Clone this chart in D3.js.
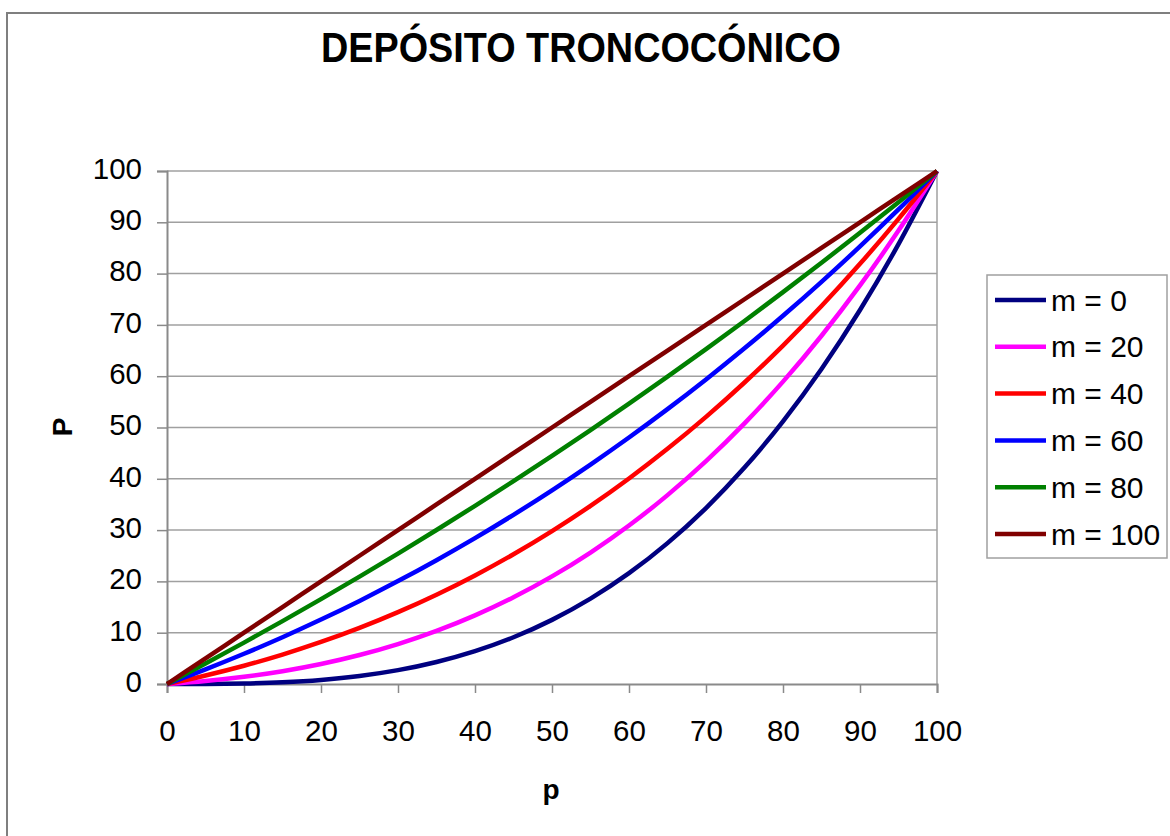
<!DOCTYPE html>
<html>
<head>
<meta charset="utf-8">
<script src="https://cdn.jsdelivr.net/npm/d3@7"></script>
<style>
  html, body { margin: 0; padding: 0; background: #fff; }
  svg { display: block; font-family: "Liberation Sans", Arial, sans-serif; }
</style>
</head>
<body>
<svg id="chart" width="1170" height="836"></svg>
<script>
// Filling level p (%) and stored volume P (%) for a truncated-cone tank,
// one series per radius ratio m (%).
const pValues = [0, 5, 10, 15, 20, 25, 30, 35, 40, 45, 50, 55, 60, 65, 70, 75, 80, 85, 90, 95, 100];

const m0   = [0, 0.01, 0.1, 0.34, 0.8, 1.56, 2.7, 4.29, 6.4, 9.11, 12.5, 16.64, 21.6, 27.46, 34.3, 42.19, 51.2, 61.41, 72.9, 85.74, 100];
const m20  = [0, 0.59, 1.41, 2.5, 3.9, 5.65, 7.78, 10.34, 13.37, 16.9, 20.97, 25.62, 30.89, 36.82, 43.45, 50.81, 58.94, 67.89, 77.69, 88.38, 100];
const m40  = [0, 1.66, 3.56, 5.73, 8.19, 10.94, 14.01, 17.41, 21.17, 25.3, 29.81, 34.72, 40.06, 45.84, 52.07, 58.77, 65.97, 73.67, 81.9, 90.67, 100];
const m60  = [0, 2.85, 5.89, 9.12, 12.56, 16.2, 20.06, 24.14, 28.44, 32.98, 37.76, 42.78, 48.05, 53.58, 59.37, 65.43, 71.77, 78.39, 85.3, 92.5, 100];
const m80  = [0, 3.98, 8.07, 12.25, 16.54, 20.93, 25.42, 30.02, 34.73, 39.54, 44.47, 49.5, 54.65, 59.91, 65.28, 70.77, 76.38, 82.11, 87.95, 93.91, 100];
const m100 = [0, 5, 10, 15, 20, 25, 30, 35, 40, 45, 50, 55, 60, 65, 70, 75, 80, 85, 90, 95, 100];

const seriesNames  = ["m = 0", "m = 20", "m = 40", "m = 60", "m = 80", "m = 100"];
const seriesValues = [m0, m20, m40, m60, m80, m100];
const seriesColors = ["#000080", "#ff00ff", "#ff0000", "#0000ff", "#008000", "#800000"];

const xTicks = [0, 10, 20, 30, 40, 50, 60, 70, 80, 90, 100];
const yTicks = [0, 10, 20, 30, 40, 50, 60, 70, 80, 90, 100];

const titleText = "DEPÓSITO TRONCOCÓNICO";
const xTitle = "p";
const yTitle = "P";

const svg = d3.select("#chart");
const plot = { left: 167, right: 937, top: 171, bottom: 684 };
const gridColor = "#a0a0a0";

// Outer chart frame
svg.append("rect")
  .attr("x", 7).attr("y", 13)
  .attr("width", 1175).attr("height", 840)
  .attr("fill", "#fff")
  .attr("stroke", "#7f7f7f")
  .attr("stroke-width", 2);

const x = d3.scaleLinear().domain([0, 100]).range([plot.left, plot.right]);
const y = d3.scaleLinear().domain([0, 100]).range([plot.bottom, plot.top]);

// Title
svg.append("text")
  .attr("x", 581).attr("y", 62)
  .attr("text-anchor", "middle")
  .attr("font-size", 43)
  .attr("font-weight", "bold")
  .attr("textLength", 520)
  .attr("lengthAdjust", "spacingAndGlyphs")
  .text(titleText);

// Horizontal gridlines
svg.append("g")
  .selectAll("line")
  .data(yTicks.filter(d => d > 0))
  .join("line")
  .attr("x1", plot.left).attr("x2", plot.right)
  .attr("y1", d => y(d)).attr("y2", d => y(d))
  .attr("stroke", gridColor)
  .attr("stroke-width", 1.5);

// Plot area border (right side)
svg.append("line")
  .attr("x1", plot.right).attr("x2", plot.right)
  .attr("y1", plot.top).attr("y2", plot.bottom)
  .attr("stroke", gridColor).attr("stroke-width", 1.5);

// Axes
const yAxis = d3.axisLeft(y).tickValues(yTicks).tickSize(10).tickPadding(15).tickFormat(d3.format("d"));
const xAxis = d3.axisBottom(x).tickValues(xTicks).tickSize(9).tickPadding(27).tickFormat(d3.format("d"));

const gy = svg.append("g").attr("transform", `translate(${plot.left},0)`).call(yAxis);
const gx = svg.append("g").attr("transform", `translate(0,${plot.bottom})`).call(xAxis);

[gx, gy].forEach(g => {
  g.select(".domain").attr("stroke", "#8a8a8a").attr("stroke-width", 2);
  g.selectAll(".tick line").attr("stroke", "#8a8a8a").attr("stroke-width", 1.5);
  g.selectAll(".tick text")
    .attr("fill", "#000")
    .attr("font-size", 29.5)
    .attr("font-family", "'Liberation Sans', Arial, sans-serif");
});
gy.selectAll(".tick text").attr("dy", "0.25em");

// Axis titles
svg.append("text")
  .attr("transform", "translate(72,427) rotate(-90)")
  .attr("text-anchor", "middle")
  .attr("font-size", 28)
  .attr("font-weight", "bold")
  .text(yTitle);

svg.append("text")
  .attr("x", 551).attr("y", 799)
  .attr("text-anchor", "middle")
  .attr("font-size", 28)
  .attr("font-weight", "bold")
  .text(xTitle);

// Series curves
const line = d3.line()
  .x((d, i) => x(pValues[i]))
  .y(d => y(d))
  .curve(d3.curveMonotoneX);

svg.append("g")
  .selectAll("path")
  .data(seriesValues)
  .join("path")
  .attr("d", d => line(d))
  .attr("fill", "none")
  .attr("stroke", (d, i) => seriesColors[i])
  .attr("stroke-width", 4.5)
  .attr("stroke-linejoin", "round");

// Legend
const legend = svg.append("g");
legend.append("rect")
  .attr("x", 987).attr("y", 275)
  .attr("width", 180).attr("height", 283)
  .attr("fill", "#fff")
  .attr("stroke", "#a0a0a0")
  .attr("stroke-width", 1.5);

const rowY = d3.scaleLinear().domain([0, seriesNames.length - 1]).range([300, 534]);
const rows = legend.selectAll("g.row")
  .data(seriesNames)
  .join("g")
  .attr("class", "row")
  .attr("transform", (d, i) => `translate(0,${rowY(i)})`);

rows.append("line")
  .attr("x1", 995).attr("x2", 1046)
  .attr("y1", 0).attr("y2", 0)
  .attr("stroke", (d, i) => seriesColors[i])
  .attr("stroke-width", 4.5);

rows.append("text")
  .attr("x", 1051).attr("y", 0)
  .attr("dy", "0.35em")
  .attr("font-size", 30)
  .text(d => d);
</script>
</body>
</html>
